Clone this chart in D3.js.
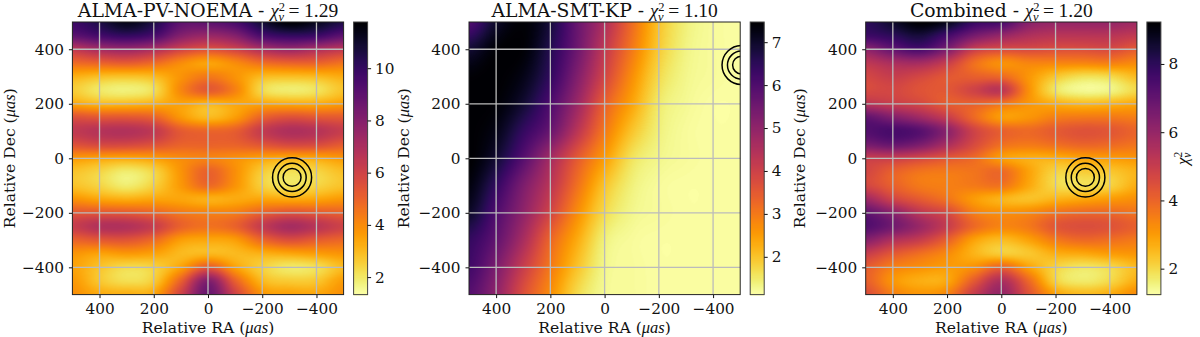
<!DOCTYPE html>
<html>
<head>
<meta charset="utf-8">
<script src="https://cdn.jsdelivr.net/npm/d3@7"></script>
<style>
  html, body { margin: 0; padding: 0; background: #fff; }
  svg { display: block; }
  text { font-family: "DejaVu Serif", serif; fill: #111; }
</style>
</head>
<body>
<svg width="1200" height="337"></svg>
<script>
// grid positions of the chi2 maps, in micro-arcseconds
let raGrid = [500, 400, 300, 200, 100, 0, -100, -200, -300, -400, -500];
let decFine = [500, 450, 400, 350, 300, 250, 200, 150, 100, 50, 0, -50, -100, -150, -200, -250, -300, -350, -400, -450, -500];
let decCoarse = [500, 400, 300, 200, 100, 0, -100, -200, -300, -400, -500];

let chiPv = [
  [9.8, 10.5, 11.3, 10.5, 9.0, 9.0, 9.5, 10.8, 11.7, 11.2, 10.5],
  [9.0, 9.6, 10.0, 9.5, 8.0, 7.5, 8.0, 9.5, 10.0, 9.8, 9.0],
  [6.5, 7.2, 7.5, 7.0, 6.0, 5.5, 6.0, 7.0, 7.5, 7.0, 6.5],
  [4.8, 5.0, 5.2, 4.8, 4.0, 3.5, 4.0, 4.7, 5.0, 5.0, 4.6],
  [3.2, 2.9, 2.8, 3.0, 3.8, 4.4, 3.8, 3.0, 2.9, 3.0, 3.3],
  [2.6, 2.0, 1.8, 2.2, 4.1, 5.2, 4.2, 2.3, 1.9, 2.1, 2.8],
  [3.4, 3.0, 3.0, 3.2, 3.5, 3.1, 3.4, 3.4, 3.3, 3.3, 3.6],
  [5.5, 5.3, 5.3, 5.0, 3.7, 3.0, 3.6, 5.0, 5.5, 5.3, 5.2],
  [6.4, 6.7, 6.8, 6.4, 5.2, 4.9, 5.1, 6.3, 6.9, 6.7, 6.2],
  [5.5, 5.8, 5.8, 5.5, 5.0, 5.0, 5.0, 5.4, 5.8, 5.7, 5.2],
  [3.7, 3.5, 3.4, 3.6, 4.0, 4.2, 3.9, 3.5, 3.3, 3.4, 3.7],
  [2.8, 2.4, 1.9, 2.4, 3.8, 5.0, 3.9, 2.6, 2.2, 2.4, 2.9],
  [2.8, 2.4, 1.9, 2.5, 3.7, 4.8, 3.8, 2.5, 2.1, 2.4, 2.8],
  [3.8, 3.4, 3.2, 3.4, 3.4, 3.2, 3.3, 3.4, 3.3, 3.4, 3.7],
  [5.3, 5.3, 5.2, 4.9, 4.4, 4.2, 4.3, 5.0, 5.4, 5.2, 5.0],
  [6.2, 6.8, 6.8, 6.2, 5.0, 4.6, 5.0, 6.3, 7.1, 6.6, 6.0],
  [5.0, 5.3, 5.4, 4.8, 3.6, 3.4, 3.6, 4.9, 5.6, 5.2, 4.9],
  [3.8, 3.5, 3.7, 3.5, 3.0, 3.0, 3.0, 3.2, 3.4, 3.6, 3.8],
  [3.5, 2.8, 2.3, 2.5, 3.5, 5.2, 3.5, 2.5, 2.0, 2.2, 3.0],
  [3.7, 2.7, 2.2, 2.6, 5.0, 8.0, 5.0, 3.0, 2.6, 2.7, 3.6],
  [3.9, 3.3, 3.2, 3.4, 6.0, 8.7, 6.0, 3.8, 3.5, 3.4, 3.9]
];

let chiSmt = [
  [6.0, 7.0, 7.4, 6.8, 5.6, 4.5, 3.2, 2.0, 1.4, 1.2, 1.15],
  [6.9, 7.4, 7.4, 6.6, 5.5, 4.2, 3.0, 1.9, 1.35, 1.2, 1.15],
  [7.4, 7.47, 7.2, 6.4, 5.2, 3.9, 2.7, 1.7, 1.3, 1.2, 1.15],
  [7.47, 7.4, 6.9, 6.0, 4.8, 3.4, 2.4, 1.5, 1.25, 1.15, 1.15],
  [7.47, 7.2, 6.4, 5.6, 4.3, 3.0, 2.0, 1.4, 1.2, 1.15, 1.15],
  [7.47, 6.9, 5.9, 4.7, 3.5, 2.5, 1.6, 1.3, 1.2, 1.15, 1.15],
  [7.3, 6.4, 5.3, 4.3, 3.1, 2.0, 1.4, 1.2, 1.15, 1.15, 1.15],
  [7.0, 6.0, 5.0, 3.9, 2.7, 1.7, 1.3, 1.2, 1.15, 1.15, 1.15],
  [6.4, 5.7, 4.6, 3.3, 2.3, 1.4, 1.2, 1.15, 1.15, 1.15, 1.15],
  [6.2, 5.3, 4.1, 3.0, 2.0, 1.3, 1.2, 1.15, 1.15, 1.15, 1.15],
  [5.9, 5.0, 3.7, 2.7, 1.7, 1.25, 1.2, 1.15, 1.15, 1.15, 1.15]
];

let chiCombined = [
  [8.0, 8.6, 9.2, 8.8, 7.8, 7.5, 6.3, 6.0, 6.0, 6.0, 5.8],
  [7.7, 8.0, 8.4, 7.6, 6.6, 6.0, 5.5, 5.3, 5.3, 5.3, 5.1],
  [6.2, 7.0, 7.5, 6.5, 5.0, 4.6, 4.6, 4.5, 4.5, 4.6, 4.2],
  [5.2, 5.6, 5.7, 5.0, 3.8, 3.2, 3.4, 3.4, 3.4, 3.5, 3.3],
  [4.7, 5.0, 4.7, 4.3, 4.1, 3.9, 3.1, 2.3, 1.9, 2.0, 2.5],
  [4.6, 4.7, 4.4, 4.3, 4.8, 5.2, 3.2, 1.8, 1.4, 1.5, 2.0],
  [5.3, 5.0, 4.7, 4.2, 4.1, 3.7, 3.1, 2.7, 2.5, 2.6, 2.8],
  [7.0, 6.4, 5.8, 5.0, 3.9, 3.0, 3.1, 3.5, 3.6, 3.6, 3.5],
  [7.3, 7.5, 7.2, 6.2, 4.8, 4.1, 3.9, 4.2, 4.4, 4.3, 4.0],
  [6.6, 6.9, 6.5, 5.6, 4.6, 3.8, 3.6, 3.8, 4.0, 3.9, 3.7],
  [5.0, 5.0, 4.7, 4.3, 3.9, 3.0, 2.7, 2.7, 2.9, 3.0, 3.1],
  [4.7, 4.1, 3.7, 3.6, 3.7, 3.9, 2.9, 2.1, 2.2, 2.3, 2.6],
  [4.7, 4.1, 3.6, 3.5, 3.6, 3.7, 2.8, 2.0, 1.9, 2.1, 2.7],
  [5.8, 4.8, 4.2, 3.7, 3.0, 2.6, 2.4, 2.6, 2.8, 3.0, 3.2],
  [7.0, 6.2, 5.2, 4.6, 3.5, 3.2, 3.3, 3.7, 3.9, 3.9, 3.7],
  [7.3, 6.7, 5.9, 5.0, 3.9, 3.4, 3.6, 4.3, 4.5, 4.4, 4.1],
  [6.3, 5.5, 5.0, 4.1, 2.9, 2.5, 2.9, 3.6, 3.9, 3.8, 3.6],
  [5.0, 4.3, 3.8, 3.3, 2.6, 2.2, 2.3, 2.7, 2.8, 3.0, 3.1],
  [4.2, 3.5, 3.2, 3.0, 3.2, 4.0, 2.9, 2.1, 1.8, 2.0, 2.5],
  [4.1, 3.1, 2.7, 2.8, 4.2, 5.5, 3.9, 2.1, 1.7, 2.0, 2.7],
  [4.5, 3.5, 3.1, 3.4, 5.0, 6.0, 4.4, 2.9, 2.5, 2.7, 3.3]
];

let titleNames = ["ALMA-PV-NOEMA", "ALMA-SMT-KP", "Combined"];
let titleChi = ["1.29", "1.10", "1.20"];
let chiRanges = [[1.33, 11.77], [1.12, 7.47], [1.24, 9.23]];
let cbarTicks = [[2, 4, 6, 8, 10], [2, 3, 4, 5, 6, 7], [2, 4, 6, 8]];
let posTicks = [-400, -200, 0, 200, 400];
let ringRadii = [33, 52, 72];
let ringRa = [-310, -505, -310];
let ringDec = [-70, 342, -70];

let panelLeft = [72.4, 469, 865.7];
let plotW = 271.2;
let plotTop = 22;
let plotH = 272.6;
let cbarGap = 10;
let cbarW = 14;

let svg = d3.select("svg");

// catmull-rom lookup so the map renders smooth like the imshow in the paper
function cubic(a, b, c, d, t) {
  return b + 0.5 * t * (c - a + t * (2 * a - 5 * b + 4 * c - d + t * (3 * (b - c) + d - a)));
}

function sampleGrid(grid, rows, ra, dec) {
  let nr = rows.length - 1, nc = raGrid.length - 1;
  let fy = (rows[0] - dec) / (rows[0] - rows[nr]) * nr;
  let fx = (raGrid[0] - ra) / (raGrid[0] - raGrid[nc]) * nc;
  let iy = Math.min(Math.floor(fy), nr - 1), ix = Math.min(Math.floor(fx), nc - 1);
  let r = i => Math.max(0, Math.min(nr, i));
  let c = i => Math.max(0, Math.min(nc, i));
  let vals = [-1, 0, 1, 2].map(k => {
    let row = grid[r(iy + k)];
    return cubic(row[c(ix - 1)], row[c(ix)], row[c(ix + 1)], row[c(ix + 2)], fx - ix);
  });
  return cubic(vals[0], vals[1], vals[2], vals[3], fy - iy);
}

function mapImage(grid, rows, x, y, color) {
  let w = Math.round(plotW), h = Math.round(plotH);
  let canvas = document.createElement("canvas");
  canvas.width = w;
  canvas.height = h;
  let ctx = canvas.getContext("2d");
  for (let j = 0; j < h; j++) {
    for (let i = 0; i < w; i++) {
      ctx.fillStyle = color(sampleGrid(grid, rows, x.invert(i + 0.5), y.invert(j + 0.5)));
      ctx.fillRect(i, j, 1, 1);
    }
  }
  return canvas.toDataURL();
}

function drawTitle(g, i) {
  let t = g.append("text")
    .attr("x", plotW / 2)
    .attr("y", -5.4)
    .attr("text-anchor", "middle")
    .style("font-size", "18.8px");
  t.append("tspan").text(titleNames[i] + " - ");
  t.append("tspan").style("font-family", "Liberation Serif").style("font-style", "italic").text("χ");
  t.append("tspan").attr("dy", -6).style("font-family", "Liberation Serif").style("font-size", "12.5px").text("2");
  t.append("tspan").attr("dy", 10).attr("dx", -6.5).style("font-family", "Liberation Serif").style("font-style", "italic").style("font-size", "12.5px").text("ν");
  t.append("tspan").attr("dy", -4).attr("dx", 4.5).style("font-family", "Liberation Serif").style("font-size", "19.5px").text("=");
  t.append("tspan").attr("dx", 4.5).style("font-family", "Liberation Serif").style("font-size", "19.5px").text(titleChi[i]);
}

function axisLabel(sel, name) {
  sel.style("font-size", "15.6px").attr("text-anchor", "middle");
  sel.append("tspan").text(name + " (");
  sel.append("tspan").style("font-family", "Liberation Serif").style("font-style", "italic").style("font-size", "16.5px").text("μas");
  sel.append("tspan").text(")");
}

function drawPanel(i, grid, rows) {
  let g = svg.append("g").attr("transform", `translate(${panelLeft[i]},${plotTop})`);

  let x = d3.scaleLinear().domain([500, -500]).range([0, plotW]);
  let y = d3.scaleLinear().domain([500, -500]).range([0, plotH]);
  let color = d3.scaleSequential(d3.interpolateInferno).domain([chiRanges[i][1], chiRanges[i][0]]);

  g.append("image")
    .attr("width", plotW)
    .attr("height", plotH)
    .attr("preserveAspectRatio", "none")
    .attr("href", mapImage(grid, rows, x, y, color));

  // grid on top of the image
  g.append("g").selectAll("line").data(posTicks).join("line")
    .attr("x1", d => x(d)).attr("x2", d => x(d))
    .attr("y1", 0).attr("y2", plotH)
    .attr("stroke", "#bbbbbb").attr("stroke-width", 1.3);
  g.append("g").selectAll("line").data(posTicks).join("line")
    .attr("y1", d => y(d)).attr("y2", d => y(d))
    .attr("x1", 0).attr("x2", plotW)
    .attr("stroke", "#bbbbbb").attr("stroke-width", 1.3);

  let clipId = "clip" + i;
  svg.append("clipPath").attr("id", clipId).append("rect").attr("width", plotW).attr("height", plotH);
  g.append("g").attr("clip-path", `url(#${clipId})`)
    .selectAll("circle").data(ringRadii).join("circle")
    .attr("cx", x(ringRa[i]))
    .attr("cy", y(ringDec[i]))
    .attr("r", d => x(0) - x(d))
    .attr("fill", "none")
    .attr("stroke", "#000")
    .attr("stroke-width", 1.5);

  let xAxis = g.append("g")
    .attr("transform", `translate(0,${plotH})`)
    .call(d3.axisBottom(x).tickValues(posTicks).tickSize(3.5).tickPadding(5));
  let yAxis = g.append("g")
    .call(d3.axisLeft(y).tickValues(posTicks).tickSize(3.5).tickPadding(5));
  [xAxis, yAxis].forEach(a => {
    a.selectAll("text").style("font-size", "15.3px").style("font-family", "DejaVu Serif");
    a.selectAll("line").attr("stroke", "#111");
    a.select(".domain").remove();
  });

  g.append("rect")
    .attr("width", plotW).attr("height", plotH)
    .attr("fill", "none").attr("stroke", "#222").attr("stroke-width", 1);

  drawTitle(g, i);

  g.append("text")
    .attr("x", plotW / 2)
    .attr("y", plotH + 38.5)
    .call(axisLabel, "Relative RA");
  g.append("text")
    .attr("transform", `translate(${[14.5 - 72.4, 409 - 469, 805 - 865.7][i]},${plotH / 2}) rotate(-90)`)
    .call(axisLabel, "Relative Dec");

  // colorbar
  let c = g.append("g").attr("transform", `translate(${plotW + cbarGap},0)`);
  let cy = d3.scaleLinear().domain(chiRanges[i]).range([plotH, 0]);
  let steps = d3.range(0, Math.round(plotH));
  c.append("g").selectAll("rect").data(steps).join("rect")
    .attr("x", 0)
    .attr("y", d => d)
    .attr("width", cbarW)
    .attr("height", 1.5)
    .attr("fill", d => color(cy.invert(d + 0.5)));
  c.append("rect")
    .attr("width", cbarW).attr("height", plotH)
    .attr("fill", "none").attr("stroke", "#444").attr("stroke-width", 1);
  let cAxis = c.append("g")
    .attr("transform", `translate(${cbarW},0)`)
    .call(d3.axisRight(cy).tickValues(cbarTicks[i]).tickFormat(d3.format("d")).tickSize(3.5).tickPadding(4));
  cAxis.select(".domain").remove();
  cAxis.selectAll("text").style("font-size", "15.3px").style("font-family", "DejaVu Serif");
  cAxis.selectAll("line").attr("stroke", "#111");

  if (i == 2) {
    let lab = c.append("text")
      .attr("transform", `translate(${1188 - 865.7 - plotW - cbarGap},${plotH / 2}) rotate(-90)`)
      .attr("text-anchor", "middle")
      .style("font-family", "Liberation Serif")
      .style("font-style", "italic")
      .style("font-size", "17px");
    lab.append("tspan").text("χ");
    lab.append("tspan").attr("dy", -6).style("font-style", "normal").style("font-size", "11.5px").text("2");
    lab.append("tspan").attr("dy", 9).attr("dx", -6).style("font-size", "11.5px").text("ν");
  }
}

drawPanel(0, chiPv, decFine);
drawPanel(1, chiSmt, decCoarse);
drawPanel(2, chiCombined, decFine);
</script>
</body>
</html>
